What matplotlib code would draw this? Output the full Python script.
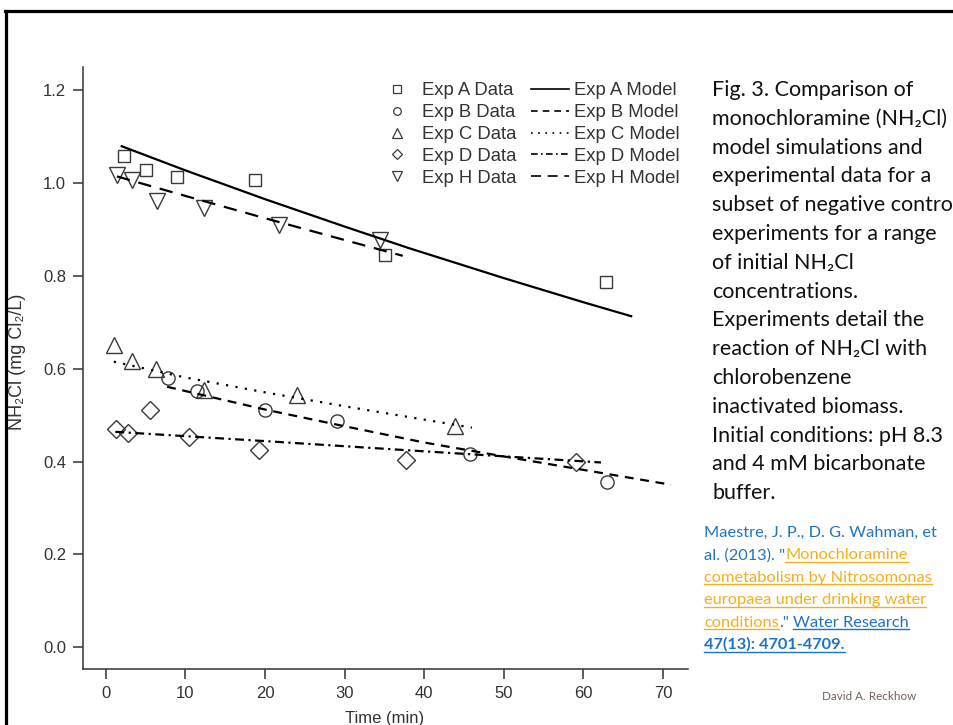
import matplotlib
matplotlib.use("Agg")
import matplotlib.pyplot as plt
from matplotlib.lines import Line2D
from matplotlib.transforms import IdentityTransform

# ---- data ----
a_t = [2.3, 5.0, 9.0, 18.8, 35.1, 62.8]
a_v = [1.058, 1.027, 1.012, 1.006, 0.845, 0.786]
b_t = [7.8, 11.5, 20.0, 29.0, 45.8, 62.9]
b_v = [0.579, 0.551, 0.511, 0.488, 0.416, 0.355]
c_t = [1.0, 3.3, 6.3, 12.3, 24.0, 43.9]
c_v = [0.650, 0.616, 0.599, 0.554, 0.544, 0.477]
d_t = [1.3, 2.8, 5.5, 10.4, 19.2, 37.7, 59.1]
d_v = [0.470, 0.461, 0.511, 0.452, 0.425, 0.403, 0.398]
h_t = [1.4, 3.3, 6.4, 12.3, 21.7, 34.5]
h_v = [1.018, 1.006, 0.961, 0.945, 0.909, 0.878]

a_mod_t = [2.0, 10, 20, 30, 38, 50, 60, 66]
a_mod_v = [1.079, 1.027, 0.965, 0.906, 0.860, 0.795, 0.743, 0.713]
b_mod_t = [7.7, 20, 30, 40, 50, 60, 71]
b_mod_v = [0.561, 0.512, 0.476, 0.441, 0.411, 0.382, 0.350]
c_mod_t = [1.0, 10, 20, 30, 38, 46]
c_mod_v = [0.615, 0.581, 0.549, 0.519, 0.496, 0.473]
d_mod_t = [1.2, 20, 40, 62.2]
d_mod_v = [0.464, 0.444, 0.422, 0.398]
h_mod_t = [1.4, 10, 20, 30, 37.3]
h_mod_v = [1.014, 0.972, 0.924, 0.877, 0.843]

x_ticks = [0, 10, 20, 30, 40, 50, 60, 70]
y_ticks = [0.0, 0.2, 0.4, 0.6, 0.8, 1.0, 1.2]

caption = ["Fig. 3. Comparison of", "monochloramine (NH\u2082Cl)",
           "model simulations and", "experimental data for a",
           "subset of negative control", "experiments for a range",
           "of initial NH\u2082Cl", "concentrations.",
           "Experiments detail the", "reaction of NH\u2082Cl with",
           "chlorobenzene", "inactivated biomass.",
           "Initial conditions: pH 8.3", "and 4 mM bicarbonate", "buffer."]

BLUE = "#1f74c2"
GOLD = "#f2b01e"
# (text, colour, underline, bold) runs per line
citation = [
    [("Maestre, J. P., D. G. Wahman, et", BLUE, False, False)],
    [("al. (2013). \"", BLUE, False, False), ("Monochloramine", GOLD, True, False)],
    [("cometabolism by Nitrosomonas", GOLD, True, False)],
    [("europaea under drinking water", GOLD, True, False)],
    [("conditions", GOLD, True, False), (".\"", BLUE, False, False),
     (" ", BLUE, False, False), ("Water Research", BLUE, True, False)],
    [("47(13): 4701-4709.", BLUE, True, True)],
]

W, H = 954, 725
fig = plt.figure(figsize=(W / 100, H / 100), dpi=100)
ax = fig.add_axes([82.7 / W, 1 - 669.3 / H, (687.7 - 82.7) / W, (669.3 - 67) / H])

ink = "#333333"
mk = dict(linestyle="none", mfc="none", mec="#3a3a3a", mew=1.0)
ax.plot(a_t, a_v, marker="s", ms=9, **mk)
ax.plot(b_t, b_v, marker="o", ms=9.5, **mk)
ax.plot(c_t, c_v, marker="^", ms=11, **mk)
ax.plot(d_t, d_v, marker="D", ms=9, **mk)
ax.plot(h_t, h_v, marker="v", ms=11, **mk)

styles = {
    "A": "-",
    "B": (0, (4, 3)),
    "C": (0, (1, 3.3)),
    "D": (0, (4, 2, 1, 2)),
    "H": (0, (6, 4)),
}
ax.plot(a_mod_t, a_mod_v, color="k", lw=1.6, ls=styles["A"])
ax.plot(b_mod_t, b_mod_v, color="k", lw=1.6, ls=styles["B"])
ax.plot(c_mod_t, c_mod_v, color="k", lw=1.6, ls=styles["C"])
ax.plot(d_mod_t, d_mod_v, color="k", lw=1.6, ls=styles["D"])
ax.plot(h_mod_t, h_mod_v, color="k", lw=1.6, ls=styles["H"])

ax.set_xlim(-2.9, 73.1)
ax.set_ylim(-0.0474, 1.2496)
ax.set_xticks(x_ticks)
ax.set_yticks(y_ticks)
ax.set_yticklabels([f"{v:.1f}" for v in y_ticks])
for s in ["top", "right"]:
    ax.spines[s].set_visible(False)
for s in ["left", "bottom"]:
    ax.spines[s].set_color(ink)
    ax.spines[s].set_linewidth(1.1)
ax.tick_params(direction="out", length=7.5, width=1.1, color=ink,
               labelcolor=ink, labelsize=12, pad=4.5)
for lab in ax.get_xticklabels() + ax.get_yticklabels():
    lab.set_family(["Liberation Sans", "DejaVu Sans"])

# legend: markers in the first column, model lines in the second
lmk = dict(linestyle="none", mfc="none", mec="#3a3a3a", mew=0.9)
handles = [
    Line2D([], [], marker="s", ms=5.5, **lmk),
    Line2D([], [], marker="o", ms=5.5, **lmk),
    Line2D([], [], marker="^", ms=6.5, **lmk),
    Line2D([], [], marker="D", ms=5.5, **lmk),
    Line2D([], [], marker="v", ms=6.5, **lmk),
]
handles += [Line2D([], [], color="k", lw=1.2, ls=styles[k]) for k in "ABCDH"]
labels = [f"Exp {k} Data" for k in "ABCDH"] + [f"Exp {k} Model" for k in "ABCDH"]
leg = ax.legend(handles, labels, ncol=2, frameon=False, loc="upper left",
                bbox_to_anchor=(378.5 / W, 1 - 82 / H), bbox_transform=fig.transFigure,
                borderpad=0, borderaxespad=0, handlelength=2.05, handletextpad=0.3,
                columnspacing=0.8, labelspacing=0.27,
                prop={"family": "Liberation Sans", "size": 13.3})
for t in leg.get_texts():
    t.set_color(ink)

fig.text(18 / W, 1 - 362 / H, "NH\u2082Cl (mg Cl\u2082/L)", rotation=90, ha="center",
         va="center", fontsize=13, color=ink, family=["Liberation Sans", "DejaVu Sans"])
fig.text(385 / W, 1 - 719 / H, "Time (min)", ha="center", va="center",
         fontsize=12, color=ink, family="Liberation Sans")

# slide frame
fig.add_artist(Line2D([5 / W, 1], [1 - 11.3 / H, 1 - 11.3 / H], color="k", lw=2.3,
                      transform=fig.transFigure))
fig.add_artist(Line2D([6.5 / W, 6.5 / W], [0, 1 - 11.3 / H], color="k", lw=2.3,
                      transform=fig.transFigure))

# caption on the right
for i, line in enumerate(caption):
    fig.text(712, H - (96 + 28.8 * i), line, transform=IdentityTransform(),
             va="baseline", ha="left", fontsize=15.5, color="#111111",
             family=["Lato", "DejaVu Sans"])

# citation with mixed colours / underlines
fig.canvas.draw()
renderer = fig.canvas.get_renderer()
for i, runs in enumerate(citation):
    x = 704
    y = H - (537 + 22.4 * i)
    for txt, col, under, bold in runs:
        t = fig.text(x, y, txt, transform=IdentityTransform(), va="baseline",
                     ha="left", fontsize=11.8, color=col,
                     weight="bold" if bold else "normal", family="Lato")
        bb = t.get_window_extent(renderer)
        w = bb.width
        if txt.strip() == "":
            w = 4.5
        if under:
            fig.add_artist(Line2D([bb.x0, bb.x1], [y - 2.5, y - 2.5], color=col,
                                  lw=1.0, transform=IdentityTransform()))
        x += w

fig.text(822, H - 700, "David A. Reckhow", transform=IdentityTransform(),
         ha="left", va="baseline", fontsize=8.4, color="#6f625a", family="Lato")

fig.savefig("out.png", dpi=100)
